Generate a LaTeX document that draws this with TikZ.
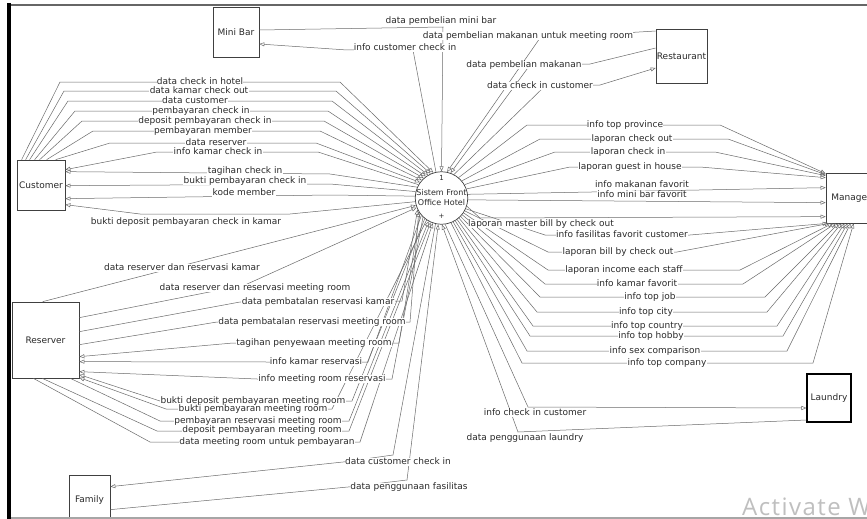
\documentclass[tikz,border=0pt]{standalone}
\usepackage{fontspec}
\setmainfont{DejaVu Sans}
\newfontfamily\wmfont[LetterSpace=6]{Open Sans}
\usetikzlibrary{arrows.meta}
\definecolor{lc}{HTML}{6A6A6A}
\definecolor{tc}{HTML}{2A2A2A}
\begin{document}
\begin{tikzpicture}[x=1pt,y=-1pt,
  fl/.style={draw=lc, line width=0.5pt, -{Triangle[open,length=5pt,width=4pt]}},
  lbl/.style={fill=white, inner sep=0.3pt, text=tc, text height=6.5pt, text depth=1.8pt, font=\fontsize{9}{10}\selectfont},
  ent/.style={draw=black!75, line width=0.7pt, fill=white, inner sep=0pt, text=tc, font=\fontsize{9}{10}\selectfont},
  ]
\useasboundingbox (0,0) rectangle (867,519);
\clip (0,0) rectangle (867,519);
\fill[white] (0,0) rectangle (867,519);

% ---------- entities ----------
\node[ent, minimum width=46pt, minimum height=50pt] (minibar) at (236,32) {Mini Bar};
\node[ent, minimum width=51pt, minimum height=54pt] (rest) at (681.5,56) {Restaurant};
\node[ent, minimum width=48pt, minimum height=50pt] (cust) at (41,185) {Customer};
\node[ent, minimum width=50pt, minimum height=50pt] (mgr) at (851,198) {Manager};
\node[ent, minimum width=67pt, minimum height=76pt] (resv) at (45.5,340) {Reserver};
\node[ent, minimum width=44pt, minimum height=48pt, line width=1.1pt, draw=black] (laun) at (829,398) {Laundry};
\node[ent, minimum width=41pt, minimum height=50pt] (fam) at (89.5,500) {Family};
\node[circle, draw=black!75, line width=0.7pt, fill=white, minimum size=48pt, inner sep=0pt,
      align=center, font=\fontsize{8}{10}\selectfont, text=tc] (sys) at (441.5,198) {Sistem Front\\Office Hotel};
\node[font=\fontsize{7}{7}\selectfont, text=tc, inner sep=0pt] (sysnum) at (441.5,178) {1};
\node[font=\fontsize{7}{7}\selectfont, text=tc, inner sep=0pt] (sysplus) at (441.5,216) {+};

% ---------- Mini Bar ----------
\draw[fl] ([yshift=2pt]minibar.east) -- (443,27) -- (sys.90);
\draw[fl] (sys.102) -- (413,50) -- (347,50) -- ([yshift=-12pt]minibar.east);

% ---------- Restaurant ----------
\draw[fl] ([yshift=25pt]rest.west) -- (540,38) -- (sys.78);
\draw[fl] ([yshift=8pt]rest.west) -- (590,64) -- (530,65) -- (sys.70);
\draw[fl] (sys.62) -- (545,86) -- (600,85) -- ([yshift=-12pt]rest.west);

% ---------- Customer ----------
\draw[fl] ([xshift=5pt]cust.north west) -- (60,82) -- (340,82) -- (sys.108);
\draw[fl] ([xshift=9pt]cust.north west) -- (64,91) -- (336,91) -- (sys.114);
\draw[fl] ([xshift=13pt]cust.north west) -- (68,101) -- (332,101) -- (sys.120);
\draw[fl] ([xshift=18pt]cust.north west) -- (75,111) -- (328,111) -- (sys.126);
\draw[fl] ([xshift=23pt]cust.north west) -- (82,121) -- (324,121) -- (sys.132);
\draw[fl] ([xshift=30pt]cust.north west) -- (93,131) -- (320,131) -- (sys.138);
\draw[fl] ([xshift=39pt]cust.north west) -- (110,143) -- (316,143) -- (sys.144);
\draw[fl] (sys.150) -- (318,152) -- (157,152) -- ([yshift=-10pt]cust.north east);
\draw[fl] (sys.156) -- (330,174) -- ([yshift=-12pt]cust.north east);
\draw[fl] (sys.166) -- (330,184) -- ([yshift=-26pt]cust.north east);
\draw[fl] (sys.176) -- (330,195) -- ([yshift=-39pt]cust.north east);
\draw[fl] (sys.188) -- (290,214) -- (140,214) -- ([yshift=-45pt]cust.north east);

% ---------- Reserver ----------
\draw[fl] ([xshift=31pt]resv.north west) -- (sys.196);
\draw[fl] ([yshift=-16pt]resv.north east) -- (245,285) -- (sys.201);
\draw[fl] ([yshift=-30pt]resv.north east) -- (240,302) -- (402,301) -- (sys.206);
\draw[fl] ([yshift=-43pt]resv.north east) -- (217,322) -- (410,322) -- (sys.211);
\draw[fl] (sys.216) -- (399,343) -- (233,343) -- ([yshift=-55pt]resv.north east);
\draw[fl] (sys.221) -- (368,362) -- (268,362) -- ([yshift=-60pt]resv.north east);
\draw[fl] (sys.226) -- (392,379) -- (257,379) -- ([yshift=-70pt]resv.north east);
\draw[fl] (sys.231) -- (352,401) -- (160,401) -- ([yshift=-73pt]resv.north east);
\draw[fl] (sys.236) -- (332,409) -- (166,409) -- ([yshift=-76pt]resv.north east);
\draw[fl] ([xshift=-9pt]resv.south east) -- (160,421) -- (349,421) -- (sys.241);
\draw[fl] ([xshift=-37pt]resv.south east) -- (157,431) -- (349,431) -- (sys.246);
\draw[fl] ([xshift=-46pt]resv.south east) -- (150,442) -- (360,442) -- (sys.251);

% ---------- Family ----------
\draw[fl] (sys.257) -- (393,455) -- (343,462) -- ([yshift=-12pt]fam.north east);
\draw[fl] ([yshift=-35pt]fam.north east) -- (348,487) -- (407,480) -- (sys.263);

% ---------- Laundry ----------
\draw[fl] (sys.278) -- (528,407) -- ([yshift=-10pt]laun.west);
\draw[fl] ([yshift=-22pt]laun.west) -- (518,432) -- (sys.271);

% ---------- Manager ----------
\draw[fl] (sys.50) -- (527,125) -- (720,125) -- ([yshift=-1pt]mgr.north west);
\draw[fl] (sys.40) -- (540,139) -- (728,139) -- ([yshift=-2pt]mgr.north west);
\draw[fl] (sys.30) -- (555,152) -- (715,152) -- ([yshift=-3pt]mgr.north west);
\draw[fl] (sys.20) -- (570,167) -- (700,167) -- ([yshift=-5pt]mgr.north west);
\draw[fl] (sys.8) -- ([yshift=-15pt]mgr.north west);
\draw[fl] (sys.356) -- ([yshift=-30pt]mgr.north west);
\draw[fl] (sys.342) -- (480,218) -- ([yshift=-44pt]mgr.north west);
\draw[fl] (sys.336) -- (545,235) -- (690,235) -- ([xshift=2pt]mgr.south west);
\draw[fl] (sys.331) -- (548,252) -- (677,252) -- ([xshift=4pt]mgr.south west);
\draw[fl] (sys.326) -- (548,270) -- (740,270) -- ([xshift=7pt]mgr.south west);
\draw[fl] (sys.321) -- (545,284) -- (743,284) -- ([xshift=10pt]mgr.south west);
\draw[fl] (sys.316) -- (540,297) -- (765,297) -- ([xshift=13pt]mgr.south west);
\draw[fl] (sys.311) -- (537,312) -- (767,312) -- ([xshift=16pt]mgr.south west);
\draw[fl] (sys.306) -- (533,326) -- (777,326) -- ([xshift=19pt]mgr.south west);
\draw[fl] (sys.301) -- (530,336) -- (783,336) -- ([xshift=22pt]mgr.south west);
\draw[fl] (sys.296) -- (527,351) -- (787,351) -- ([xshift=25pt]mgr.south west);
\draw[fl] (sys.291) -- (522,363) -- (813,363) -- ([xshift=28pt]mgr.south west);

% ---------- labels ----------
\node[lbl] (lb1) at (441,21) {data pembelian mini bar};
\node[lbl] (lb2) at (405,48) {info customer check in};
\node[lbl] (lb3) at (528,36) {data pembelian makanan untuk meeting room};
\node[lbl] (lb4) at (524,65) {data pembelian makanan};
\node[lbl] (lb5) at (540,86) {data check in customer};
\node[lbl] (lb6) at (200,82) {data check in hotel};
\node[lbl] (lb7) at (199,91) {data kamar check out};
\node[lbl] (lb8) at (195,101) {data customer};
\node[lbl] (lb9) at (201,111) {pembayaran check in};
\node[lbl] (lb10) at (205,121) {deposit pembayaran check in};
\node[lbl] (lb11) at (203,131) {pembayaran member};
\node[lbl] (lb12) at (216,143) {data reserver};
\node[lbl] (lb13) at (218,152) {info kamar check in};
\node[lbl] (lb14) at (245,171) {tagihan check in};
\node[lbl] (lb15) at (245,181) {bukti pembayaran check in};
\node[lbl] (lb16) at (244,193) {kode member};
\node[lbl] (lb17) at (186,222) {bukti deposit pembayaran check in kamar};
\node[lbl] (lb18) at (182,268) {data reserver dan reservasi kamar};
\node[lbl] (lb19) at (255,288) {data reserver dan reservasi meeting room};
\node[lbl] (lb20) at (318,302) {data pembatalan reservasi kamar};
\node[lbl] (lb21) at (312,322) {data pembatalan reservasi meeting room};
\node[lbl] (lb22) at (314,343) {tagihan penyewaan meeting room};
\node[lbl] (lb23) at (316,362) {info kamar reservasi};
\node[lbl] (lb24) at (322,379) {info meeting room reservasi};
\node[lbl] (lb25) at (253,401) {bukti deposit pembayaran meeting room};
\node[lbl] (lb26) at (253,409) {bukti pembayaran meeting room};
\node[lbl] (lb27) at (258,421) {pembayaran reservasi meeting room};
\node[lbl] (lb28) at (262,430) {deposit pembayaran meeting room};
\node[lbl] (lb29) at (267,442) {data meeting room untuk pembayaran};
\node[lbl] (lb30) at (398,462) {data customer check in};
\node[lbl] (lb31) at (409,487) {data penggunaan fasilitas};
\node[lbl] (lb32) at (535,413) {info check in customer};
\node[lbl] (lb33) at (525,438) {data penggunaan laundry};
\node[lbl] (lb34) at (625,125) {info top province};
\node[lbl] (lb35) at (632,139) {laporan check out};
\node[lbl] (lb36) at (628,152) {laporan check in};
\node[lbl] (lb37) at (630,167) {laporan guest in house};
\node[lbl] (lb38) at (642,185) {info makanan favorit};
\node[lbl] (lb39) at (642,195) {info mini bar favorit};
\node[lbl] (lb40) at (541,224) {laporan master bill by check out};
\node[lbl] (lb41) at (622,235) {info fasilitas favorit customer};
\node[lbl] (lb42) at (618,252) {laporan bill by check out};
\node[lbl] (lb43) at (624,270) {laporan income each staff};
\node[lbl] (lb44) at (637,284) {info kamar favorit};
\node[lbl] (lb45) at (650,297) {info top job};
\node[lbl] (lb46) at (646,312) {info top city};
\node[lbl] (lb47) at (647,326) {info top country};
\node[lbl] (lb48) at (651,336) {info top hobby};
\node[lbl] (lb49) at (655,351) {info sex comparison};
\node[lbl] (lb50) at (667,363) {info top company};

% ---------- watermark and window frame ----------
\node[anchor=base west, inner sep=0pt, text=black!25, font=\wmfont\fontsize{24}{24}\selectfont] (wm) at (742,515) {Activate W};
\draw[black!60, line width=2.5pt] (9,5) -- (867,5);
\draw[black!35, line width=1.5pt] (9,518) -- (867,518);
\draw[black, line width=4.5pt] (9,3) -- (9,519);
\end{tikzpicture}
\end{document}
